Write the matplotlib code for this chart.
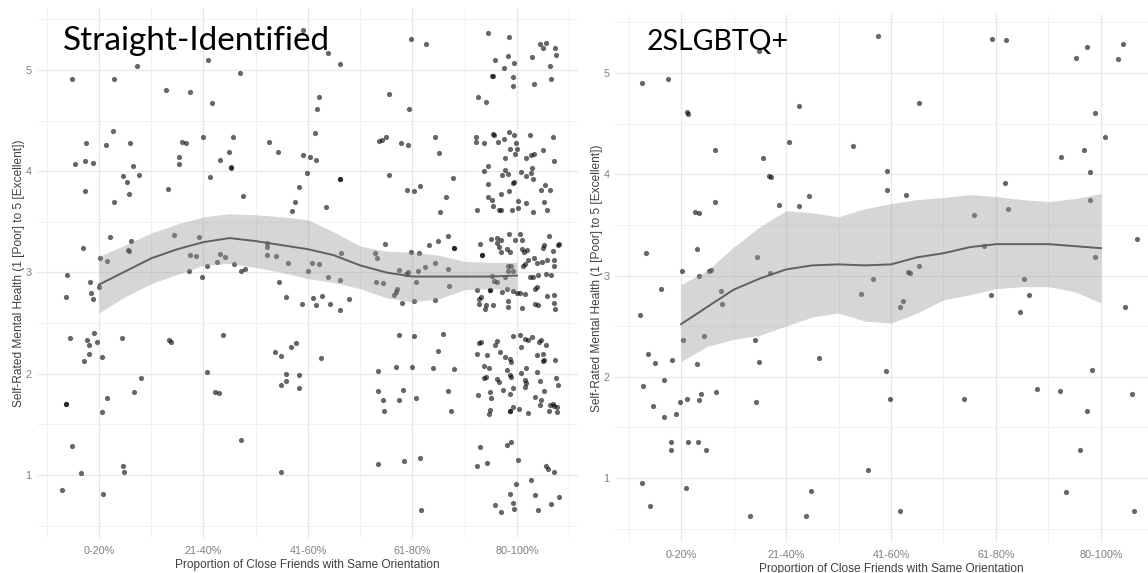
#!/usr/bin/env python3
"""
Self-rated mental health vs proportion of close friends with the same orientation.
Two jittered scatter panels (straight-identified / 2SLGBTQ+) with a loess-style
smoother and its confidence band.
"""

import matplotlib.pyplot as plt
import numpy as np

CATEGORIES = ['0-20%', '21-40%', '41-60%', '61-80%', '80-100%']
X_LABEL = 'Proportion of Close Friends with Same Orientation'
Y_LABEL = 'Self-Rated Mental Health (1 [Poor] to 5 [Excellent])'

# ---- Straight-identified: jittered responses (x, y) ----
straight_0_20 = [
    (0.74, 4.91), (1.36, 5.04), (1.14, 4.91), (1.13, 4.40), (0.88, 4.28), (1.07, 4.26),
    (1.30, 4.28), (0.77, 4.07), (0.87, 4.10), (0.94, 4.08), (1.33, 4.05), (1.23, 3.95),
    (1.38, 3.96), (1.27, 3.89), (0.87, 3.80), (1.29, 3.78), (1.14, 3.70), (0.85, 3.24),
    (1.11, 3.35), (1.31, 3.31), (1.28, 3.22), (1.29, 3.21), (1.01, 3.14), (1.08, 3.11),
    (0.69, 2.98), (0.91, 2.91), (1.00, 2.86), (0.92, 2.80), (0.94, 2.74), (0.68, 2.76),
    (0.72, 2.35), (0.89, 2.33), (0.95, 2.40), (0.98, 2.31), (0.90, 2.28), (0.90, 2.20),
    (0.86, 2.13), (1.03, 2.17), (1.22, 2.35), (1.40, 1.96), (1.34, 1.82), (1.08, 1.76),
    (0.68, 1.70), (0.68, 1.70), (1.03, 1.62), (0.74, 1.29), (1.23, 1.09), (1.24, 1.03),
    (0.83, 1.02), (0.65, 0.85), (1.04, 0.81),
]
straight_21_40 = [
    (2.04, 5.10), (2.35, 4.97), (1.64, 4.80), (1.87, 4.78), (2.08, 4.67), (1.79, 4.29),
    (1.83, 4.28), (2.00, 4.34), (2.28, 4.34), (2.24, 4.19), (2.63, 4.29), (2.71, 4.19),
    (1.77, 4.14), (1.77, 4.07), (2.16, 4.11), (2.26, 4.04), (2.26, 4.03), (2.06, 3.94),
    (1.66, 3.82), (2.38, 3.76), (1.72, 3.37), (1.96, 3.35), (2.61, 3.29), (2.61, 3.25),
    (1.87, 3.17), (1.93, 3.16), (2.16, 3.18), (2.21, 3.15), (2.61, 3.17), (2.69, 3.16),
    (2.13, 3.10), (2.29, 3.08), (2.81, 3.09), (2.03, 3.06), (1.86, 3.01), (2.36, 3.01),
    (2.40, 3.03), (1.99, 2.96), (2.72, 2.91), (2.79, 2.76), (1.67, 2.33), (1.69, 2.31),
    (2.19, 2.38), (2.03, 2.02), (2.11, 1.82), (2.15, 1.81), (2.36, 1.35),
]
straight_41_60 = [
    (2.95, 5.39), (3.19, 5.17), (3.31, 5.06), (3.11, 4.73), (3.09, 4.61), (3.07, 4.38),
    (2.95, 4.16), (3.02, 4.14), (3.08, 4.11), (2.99, 3.98), (3.31, 3.92), (3.31, 3.92),
    (3.17, 3.65), (2.85, 3.61), (2.88, 3.70), (2.91, 3.84), (3.04, 3.09), (3.11, 3.08),
    (3.00, 3.01), (3.19, 2.96), (3.31, 2.93), (3.32, 3.19), (2.94, 2.69), (3.05, 2.75),
    (3.13, 2.77), (3.08, 2.68), (3.21, 2.69), (3.31, 2.63), (3.39, 2.74), (2.68, 2.21),
    (2.74, 2.18), (2.84, 2.26), (2.89, 2.30), (2.79, 2.00), (2.91, 1.99), (2.79, 1.93),
    (2.74, 1.89), (2.91, 1.86), (3.12, 2.16), (2.74, 1.03),
]
straight_61_80 = [
    (3.99, 5.31), (4.13, 5.26), (3.78, 4.76), (3.97, 4.61), (3.68, 4.30), (3.71, 4.31),
    (3.75, 4.34), (3.89, 4.28), (3.96, 4.26), (4.22, 4.34), (4.25, 4.18), (3.78, 3.96),
    (3.95, 3.81), (4.01, 3.80), (4.07, 3.85), (4.39, 3.93), (4.32, 3.75), (4.26, 3.60),
    (3.74, 3.28), (3.64, 3.19), (3.66, 3.14), (3.65, 2.91), (3.72, 2.90), (3.87, 3.02),
    (3.94, 2.99), (3.96, 3.00), (3.99, 3.20), (4.06, 3.19), (4.05, 3.01), (4.03, 2.91),
    (4.12, 3.05), (4.22, 3.09), (4.16, 3.27), (4.24, 3.31), (4.34, 3.36), (4.40, 3.24),
    (4.40, 3.24), (4.34, 3.03), (4.35, 2.87), (3.85, 2.84), (3.84, 2.81), (3.82, 2.78),
    (3.90, 2.70), (4.01, 2.72), (4.22, 2.73), (3.87, 2.38), (4.01, 2.37), (4.29, 2.39),
    (4.24, 2.22), (3.67, 2.03), (3.84, 2.07), (4.00, 2.07), (4.20, 2.06), (4.40, 2.05),
    (3.67, 1.83), (3.91, 1.84), (3.72, 1.74), (3.87, 1.74), (4.03, 1.76), (3.73, 1.63),
    (4.34, 1.83), (4.37, 1.63), (3.67, 1.11), (3.92, 1.14), (4.07, 1.17), (4.08, 0.65),
]
straight_80_100 = [
    # around 5
    (4.72, 5.37), (4.92, 5.33), (4.79, 5.10), (4.91, 5.14), (4.97, 5.07), (4.88, 5.02),
    (4.76, 4.94), (4.77, 4.94), (4.96, 4.93), (4.96, 4.84), (5.14, 5.13), (5.22, 5.26),
    (5.28, 5.27), (5.25, 5.22), (5.36, 5.22), (5.37, 5.15), (5.32, 5.04), (5.33, 4.91),
    (5.16, 4.86), (4.63, 4.73), (4.70, 4.68),
    # around 4
    (4.61, 4.34), (4.61, 4.29), (4.68, 4.28), (4.77, 4.37), (4.78, 4.36), (4.82, 4.29),
    (4.88, 4.32), (4.92, 4.39), (4.97, 4.36), (4.99, 4.28), (5.00, 4.22), (4.98, 4.17),
    (4.93, 4.22), (4.89, 4.13), (5.12, 4.36), (5.25, 4.21), (5.16, 4.17), (5.13, 4.16),
    (5.09, 4.13), (5.34, 4.34), (5.35, 4.10), (4.68, 4.00), (4.72, 4.05), (4.86, 3.96),
    (4.91, 3.97), (4.89, 4.01), (5.04, 3.99), (5.09, 3.95), (5.14, 4.03), (5.13, 3.98),
    (5.15, 3.92), (4.97, 3.89), (4.96, 3.88), (4.92, 3.80), (4.85, 3.78), (4.72, 3.87),
    (4.72, 3.75), (4.76, 3.72), (4.77, 3.66), (4.83, 3.62), (4.85, 3.62), (4.95, 3.62),
    (5.01, 3.64), (5.01, 3.71), (5.09, 3.69), (5.15, 3.60), (5.23, 3.81), (5.27, 3.86),
    (5.32, 3.81), (5.26, 3.70), (5.29, 3.62), (4.62, 3.62),
    # around 3
    (4.65, 3.28), (4.67, 3.17), (4.67, 3.17), (4.75, 3.33), (4.81, 3.34), (4.85, 3.32),
    (4.92, 3.38), (5.03, 3.38), (4.81, 3.29), (4.83, 3.25), (4.85, 3.20), (4.90, 3.23),
    (4.93, 3.20), (5.05, 3.32), (5.07, 3.20), (4.91, 3.06), (4.94, 3.06), (4.96, 3.01),
    (4.91, 3.01), (4.89, 2.96), (4.76, 2.97), (4.78, 2.92), (4.81, 2.91), (4.62, 2.83),
    (4.66, 2.76), (4.64, 2.74), (4.74, 2.83), (4.74, 2.83), (4.86, 2.81), (4.90, 2.84),
    (4.96, 2.82), (5.03, 2.80), (4.64, 2.69), (4.70, 2.68), (4.77, 2.68), (4.69, 2.64),
    (4.91, 2.72), (4.91, 2.66), (5.05, 2.65), (5.06, 3.06), (5.08, 3.08), (5.11, 3.12),
    (5.16, 3.14), (5.19, 3.09), (5.24, 3.10), (5.29, 3.12), (5.35, 3.12), (5.35, 3.06),
    (4.98, 3.32), (5.10, 3.22), (5.05, 3.23), (5.31, 3.36), (5.39, 3.27), (5.40, 3.28),
    (5.34, 3.21), (5.26, 3.27), (5.25, 3.24), (5.12, 2.96), (5.15, 2.96), (5.20, 2.98),
    (5.28, 2.99), (5.33, 2.98), (5.19, 2.86), (5.17, 2.69), (5.20, 2.68), (5.29, 2.77),
    (5.35, 2.78), (5.35, 2.70), (5.36, 2.64), (5.17, 2.84), (5.00, 2.80), (5.08, 2.79),
    # around 2
    (4.64, 2.30), (4.66, 2.31), (4.62, 2.20), (4.71, 2.19), (4.79, 2.28), (4.81, 2.32),
    (4.84, 2.21), (4.89, 2.17), (4.93, 2.15), (4.94, 2.12), (4.96, 2.37), (5.03, 2.38),
    (5.08, 2.34), (5.11, 2.33), (5.14, 2.36), (5.21, 2.31), (5.23, 2.33), (5.28, 2.28),
    (5.19, 2.19), (5.25, 2.20), (5.26, 2.14), (5.25, 2.13), (5.36, 2.14), (5.04, 2.26),
    (4.68, 2.08), (4.73, 2.06), (4.68, 1.96), (4.70, 1.97), (4.81, 1.95), (4.83, 1.92),
    (4.90, 2.04), (4.93, 1.99), (4.94, 1.97), (5.04, 2.01), (5.09, 2.06), (5.08, 1.94),
    (5.09, 1.91), (5.19, 2.02), (5.22, 1.93), (5.37, 1.96), (5.39, 1.89), (4.74, 1.82),
    (4.75, 1.76), (4.87, 1.84), (4.93, 1.80), (4.96, 1.86), (5.08, 1.87), (5.17, 1.77),
    (5.26, 1.83), (5.23, 1.74), (5.22, 1.69), (5.32, 1.69), (5.34, 1.70), (5.35, 1.68),
    (5.38, 1.67), (5.31, 1.63), (5.38, 1.62), (4.96, 1.67), (5.02, 1.65), (4.93, 1.63),
    (4.93, 1.63), (4.74, 1.64), (4.73, 1.60), (5.11, 1.61), (4.63, 1.79),
    # around 1
    (4.65, 1.28), (4.62, 1.09), (4.71, 1.12), (4.90, 1.30), (4.94, 1.33), (5.01, 1.15),
    (5.28, 1.09), (5.30, 1.06), (5.35, 1.03), (4.99, 0.91), (5.13, 0.95), (4.93, 0.81),
    (5.17, 0.80), (5.40, 0.78), (4.79, 0.70), (4.96, 0.72), (4.97, 0.66), (4.85, 0.63),
    (5.20, 0.65), (5.33, 0.71),
]

# ---- 2SLGBTQ+: jittered responses (x, y) ----
lgbtq_0_20 = [
    (0.63, 4.90), (0.88, 4.94), (1.06, 4.62), (1.07, 4.60), (1.32, 4.24), (1.32, 3.73),
    (1.13, 3.63), (1.17, 3.62), (0.67, 3.22), (1.15, 3.26), (1.01, 3.04), (1.17, 3.00),
    (1.27, 3.04), (1.29, 3.05), (0.81, 2.87), (1.38, 2.85), (1.39, 2.72), (0.61, 2.61),
    (1.02, 2.36), (1.22, 2.40), (0.91, 2.17), (1.15, 2.13), (0.69, 2.22), (0.75, 2.14),
    (0.64, 1.91), (0.84, 1.97), (0.73, 1.71), (0.84, 1.60), (0.95, 1.63), (0.99, 1.75),
    (1.06, 1.78), (1.17, 1.77), (1.19, 1.83), (1.33, 1.85), (0.90, 1.28), (0.90, 1.36),
    (1.07, 1.36), (1.16, 1.36), (1.24, 1.28), (0.63, 0.95), (1.05, 0.90), (0.70, 0.72),
]
lgbtq_21_40 = [
    (1.74, 5.22), (2.12, 4.67), (2.03, 4.32), (1.78, 4.16), (1.84, 3.98), (1.86, 3.97),
    (1.93, 3.70), (2.12, 3.69), (2.22, 3.79), (1.72, 3.18), (1.85, 3.02), (1.70, 2.36),
    (1.74, 2.15), (2.31, 2.19), (1.71, 1.75), (1.66, 0.62), (2.19, 0.62), (2.24, 0.87),
]
lgbtq_41_60 = [
    (2.64, 4.28), (2.88, 5.37), (3.27, 4.70), (2.96, 4.03), (2.96, 3.84), (3.14, 3.80),
    (2.83, 2.97), (2.71, 2.82), (3.16, 3.03), (3.18, 3.02), (3.27, 3.09), (3.11, 2.75),
    (3.09, 2.69), (2.95, 2.06), (2.99, 1.78), (2.78, 1.08), (3.09, 0.67),
]
lgbtq_61_80 = [
    (3.96, 5.34), (4.10, 5.33), (4.09, 3.91), (4.11, 3.66), (3.79, 3.60), (3.89, 3.29),
    (4.27, 2.97), (3.95, 2.81), (4.31, 2.81), (4.23, 2.64), (3.70, 1.78), (4.39, 1.88),
]
lgbtq_80_100 = [
    (4.76, 5.15), (4.87, 5.26), (5.21, 5.29), (5.16, 5.14), (4.94, 4.61), (5.04, 4.37),
    (4.62, 4.17), (4.84, 4.24), (4.90, 4.02), (4.90, 3.75), (5.34, 3.36), (4.94, 3.18),
    (4.91, 2.07), (5.23, 2.69), (4.61, 1.86), (4.87, 1.66), (5.30, 1.83), (4.80, 1.28),
    (4.67, 0.86), (5.31, 0.67),
]

# ---- Smoother (fit and 95% band) read at quarter steps ----
smooth_x = [1.0, 1.25, 1.5, 1.75, 2.0, 2.25, 2.5, 2.75, 3.0,
            3.25, 3.5, 3.75, 4.0, 4.25, 4.5, 4.75, 5.0]
straight_fit = [2.88, 3.01, 3.14, 3.23, 3.30, 3.34, 3.31, 3.27, 3.23,
                3.17, 3.07, 3.00, 2.96, 2.96, 2.96, 2.96, 2.97]
straight_lo = [2.60, 2.76, 2.89, 2.98, 3.07, 3.09, 3.05, 3.00, 2.94,
               2.90, 2.84, 2.75, 2.71, 2.74, 2.83, 2.84, 2.83]
straight_hi = [3.16, 3.27, 3.39, 3.48, 3.55, 3.58, 3.57, 3.55, 3.52,
               3.40, 3.26, 3.21, 3.20, 3.17, 3.11, 3.10, 3.10]
lgbtq_fit = [2.52, 2.69, 2.86, 2.97, 3.06, 3.10, 3.11, 3.10, 3.11,
             3.18, 3.22, 3.28, 3.31, 3.31, 3.31, 3.29, 3.27]
lgbtq_lo = [2.15, 2.30, 2.37, 2.41, 2.50, 2.59, 2.63, 2.55, 2.53,
            2.63, 2.76, 2.81, 2.87, 2.89, 2.89, 2.84, 2.73]
lgbtq_hi = [2.91, 3.05, 3.28, 3.48, 3.64, 3.62, 3.58, 3.66, 3.71,
            3.75, 3.77, 3.80, 3.78, 3.75, 3.73, 3.76, 3.81]

W, H = 1148, 573


def px_box(left, top, right, bottom):
    """Axes rectangle from pixel edges (origin top-left)."""
    return [left / W, 1 - bottom / H, (right - left) / W, (bottom - top) / H]


def draw_panel(ax, groups, fit, lo, hi, xlim, ylim):
    pts = np.array([p for g in groups for p in g])
    ax.scatter(pts[:, 0], pts[:, 1], s=14, color='black', alpha=0.6,
               linewidths=0, zorder=2)
    ax.fill_between(smooth_x, lo, hi, color='#999999', alpha=0.4,
                    linewidth=0, zorder=3)
    ax.plot(smooth_x, fit, color='#606060', linewidth=1.4, zorder=4)

    ax.set_xlim(*xlim)
    ax.set_ylim(*ylim)
    ax.set_xticks(range(1, 6))
    ax.set_xticklabels(CATEGORIES)
    ax.set_xticks(np.arange(0.5, 6, 1.0), minor=True)
    ax.set_yticks(range(1, 6))
    ax.set_yticks(np.arange(0.5, 6, 1.0), minor=True)
    ax.grid(True, which='major', color='#e8e8e8', linewidth=0.9)
    ax.grid(True, which='minor', color='#f1f1f1', linewidth=0.7)
    ax.set_axisbelow(True)
    for s in ax.spines.values():
        s.set_visible(False)
    ax.tick_params(which='both', length=0)
    ax.tick_params(axis='x', pad=6, labelsize=7.8, labelcolor='#808080')
    ax.tick_params(axis='y', pad=4, labelsize=7.8, labelcolor='#808080')
    ax.set_xlabel(X_LABEL, fontsize=8.6, color='#404040', labelpad=2)
    ax.set_ylabel(Y_LABEL, fontsize=8.6, color='#404040', labelpad=0)


def main():
    plt.rcParams['font.family'] = ['Liberation Sans', 'DejaVu Sans']
    fig = plt.figure(figsize=(W / 100, H / 100), dpi=100)

    ax1 = fig.add_axes(px_box(37, 8, 578, 538))
    draw_panel(ax1, [straight_0_20, straight_21_40, straight_41_60,
                     straight_61_80, straight_80_100],
               straight_fit, straight_lo, straight_hi,
               (0.407, 5.584), (0.378, 5.612))

    # right image is cropped on its right side in the original
    ax2 = fig.add_axes(px_box(615, 14, 1167, 542))
    draw_panel(ax2, [lgbtq_0_20, lgbtq_21_40, lgbtq_41_60,
                     lgbtq_61_80, lgbtq_80_100],
               lgbtq_fit, lgbtq_lo, lgbtq_hi,
               (0.371, 5.629), (0.368, 5.583))

    fig.text(63 / W, 1 - 50 / H, 'Straight-Identified', family='Lato',
             fontsize=24, color='black', va='baseline', ha='left')
    fig.text(647 / W, 1 - 50 / H, '2SLGBTQ+', family='Lato',
             fontsize=20.5, color='black', va='baseline', ha='left')

    fig.savefig('out.png', dpi=100)
    plt.close(fig)


if __name__ == '__main__':
    main()
